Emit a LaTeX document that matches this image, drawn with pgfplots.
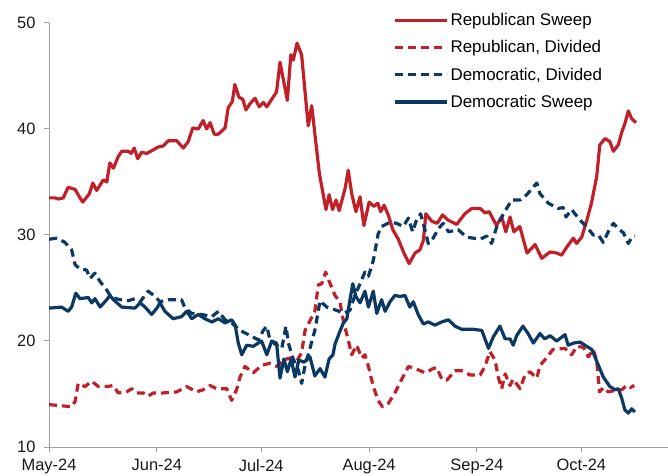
\documentclass[border=0pt]{standalone}
\usepackage{fontspec}
\setmainfont{Liberation Sans}
\usepackage{pgfplots}
\pgfplotsset{compat=1.18}
\definecolor{gsred}{RGB}{193,32,41}
\definecolor{gsblue}{RGB}{12,56,100}
\definecolor{axgray}{RGB}{160,160,160}
\begin{document}
\begin{tikzpicture}
\path[use as bounding box] (0,0) rectangle (668bp,476bp);
\begin{axis}[
  at={(49bp,29bp)}, anchor=south west,
  scale only axis, width=619bp, height=424bp,
  xmin=0, xmax=177.9, ymin=10, ymax=50,
  axis x line=bottom, axis y line=left,
  axis line style={axgray, line width=1bp, -},
  xtick={0,31,61,92,123,153},
  xticklabels={May-24,Jun-24,Jul-24,Aug-24,Sep-24,Oct-24},
  ytick={10,20,30,40,50},
  tick align=outside, major tick length=5bp,
  tick style={axgray, line width=1bp},
  every tick label/.append style={font=\fontsize{16.5}{19}\selectfont, text=black!90},
  xticklabel style={yshift=-4bp},
  yticklabel style={xshift=-5bp},
  /pgf/number format/assume math mode=true,
  legend style={draw=none, fill=none, at={(0.556,1.028)}, anchor=north west,
    font=\fontsize{17}{20}\selectfont, row sep=9.5bp, inner sep=0pt},
  legend cell align=left,
  legend image code/.code={\draw[#1] (0bp,0bp) -- (52bp,0bp);},
  every axis plot/.append style={line width=3.2bp, line join=round},
]
% Republican Sweep
\addplot[gsred] coordinates {
(0,33.5)(1.7,33.5)(2.7,33.4)(4.1,33.5)(5.5,34.5)(7.5,34.3)(8.9,33.5)(9.7,33.1)
(11.6,33.9)(12.6,34.9)(13.7,34.2)(15.6,35.2)(16.6,35.0)(17.5,36.8)(18.5,36.3)
(19.9,37.4)(20.9,37.9)(22.8,37.9)(23.6,37.7)(24.5,38.2)(25.5,37.2)(26.6,37.8)
(28.1,37.7)(29.8,38.0)(31.4,38.3)(32.8,38.4)(34.3,38.9)(36.7,38.9)(38.6,38.2)
(40.0,38.8)(41.3,40.1)(42.9,40.0)(44.3,40.8)(45.3,40.0)(46.3,40.6)(47.5,39.5)
(48.6,39.5)(50.6,40.1)(51.5,42.0)(52.7,42.6)(53.4,44.2)(54.6,43.0)(55.7,42.8)
(56.6,41.8)(57.8,42.4)(59.2,42.9)(60.4,42.1)(61.6,42.5)(62.6,42.1)(64.0,42.8)
(65.4,43.5)(66.4,46.3)(68.5,42.7)(69.5,47.0)(70.2,46.5)(71.3,48.1)(72.6,47.0)
(74.5,40.3)(75.5,42.2)(77.7,35.8)(79.6,32.4)(80.5,33.8)(81.5,32.4)(82.5,33.3)
(83.4,32.3)(85.1,34.4)(86.0,36.1)(87.0,33.9)(88.2,32.2)(89.4,33.6)(90.5,30.9)
(92.0,33.1)(93.4,32.7)(94.5,33.0)(95.3,32.2)(96.3,32.8)(97.5,31.9)(98.8,30.5)
(100.4,29.6)(102.0,28.3)(103.5,27.3)(105.2,28.3)(106.6,28.6)(107.6,29.5)
(108.3,32.0)(110.0,31.3)(111.6,31.1)(113.1,31.9)(114.7,31.4)(117.2,31.0)
(119.5,32.0)(121.5,32.5)(123.9,32.5)(125.3,32.1)(126.5,32.2)(128.6,30.9)
(130.1,31.7)(131.3,30.3)(132.5,31.7)(133.6,30.3)(135.3,30.8)(137.4,28.3)
(139.7,29.1)(141.6,27.8)(144.0,28.4)(145.9,28.3)(147.3,28.1)(148.9,28.9)
(150.7,29.7)(151.6,29.2)(153.1,29.8)(154.5,31.3)(155.9,33.0)(157.4,35.5)
(158.3,38.5)(159.8,39.1)(161.2,38.8)(162.2,37.9)(163.6,38.5)(164.6,39.7)
(165.5,40.5)(166.5,41.7)(167.4,41.0)(168.7,40.6)
};
\addlegendentry{Republican Sweep}
% Republican, Divided
\addplot[gsred, dash pattern=on 8bp off 5bp] coordinates {
(0,14.0)(3.2,13.9)(6.5,13.8)(7.5,14.3)(8.4,16.0)(10.3,15.7)(12.3,16.2)(14.2,15.7)
(16.6,15.7)(18.5,15.8)(19.9,15.1)(22.3,15.2)(23.8,15.5)(25.2,15.1)(27.1,15.1)
(28.5,14.8)(30.0,15.1)(32.8,15.1)(36.7,15.2)(39.6,15.7)(42.4,15.2)(44.3,15.4)
(46.3,15.8)(48.2,15.5)(51.1,15.5)(52.5,14.4)(53.9,15.4)(54.9,16.6)(56.3,17.6)
(58.7,17.0)(61.1,17.7)(63.5,17.9)(65.4,17.6)(67.3,18.2)(69.3,18.4)(71.2,18.1)
(72.6,18.9)(73.6,21.0)(75.0,21.9)(76.4,22.8)(77.4,25.3)(78.4,25.4)(79.5,26.5)
(80.8,25.4)(82.2,24.3)(83.6,23.7)(84.6,21.9)(86.0,20.1)(87.0,18.7)(88.4,19.6)
(89.9,18.4)(90.8,18.7)(91.8,17.6)(93.2,15.7)(94.6,14.4)(95.8,13.8)(97.5,14.1)
(99.4,15.1)(101.4,16.4)(103.3,17.6)(105.2,17.4)(108.1,17.0)(110.4,17.4)
(111.4,17.5)(112.9,16.4)(114.3,16.3)(116.7,17.2)(118.6,17.2)(121.0,16.8)
(123.9,16.8)(125.3,17.6)(126.7,19.0)(128.2,18.2)(129.1,16.6)(130.1,15.5)
(131.1,16.9)(132.5,15.8)(133.4,16.4)(135.4,15.5)(136.8,16.8)(138.2,17.1)
(140.2,16.5)(141.1,17.7)(143.0,18.4)(144.8,19.2)(148.3,19.3)(150.2,18.7)
(151.7,19.5)(153.6,19.4)(155.0,18.5)(156.4,19.2)(157.4,18.2)(158.2,15.2)
(159.3,15.6)(160.7,15.2)(162.2,15.3)(164.6,15.4)(166.0,15.8)(167.0,15.6)(168.2,15.8)
};
\addlegendentry{Republican, Divided}
% Democratic, Divided
\addplot[gsblue, dash pattern=on 8bp off 5bp] coordinates {
(0,29.6)(2.2,29.7)(4.6,29.3)(6.5,28.6)(7.5,27.2)(8.9,26.8)(10.8,26.7)(11.8,25.9)
(13.2,26.4)(14.7,25.6)(16.6,24.8)(18.0,24.1)(20.4,23.9)(22.8,23.8)(24.7,24.0)
(26.2,23.7)(28.5,24.7)(30.5,24.2)(31.9,23.7)(34.3,23.9)(36.7,23.9)(38.1,23.9)
(39.1,23.1)(41.0,22.6)(43.9,22.5)(46.8,22.3)(48.7,22.8)(50.6,22.0)(52.5,21.7)
(54.9,21.0)(57.3,20.6)(60.2,20.1)(61.6,21.0)(62.6,21.4)(63.5,20.1)(65.4,19.6)
(66.9,19.3)(68.1,21.4)(68.8,19.8)(70.2,18.3)(71.6,17.3)(72.6,16.0)(73.6,17.7)
(75.0,19.3)(76.4,21.0)(77.9,23.8)(79.8,23.2)(81.7,23.0)(83.4,22.8)(84.6,22.6)
(86.5,22.9)(87.9,24.3)(89.4,25.4)(90.8,26.5)(91.8,26.1)(93.2,27.6)(94.6,30.1)
(95.6,30.8)(98.0,31.2)(99.9,31.1)(101.8,30.8)(103.3,31.6)(104.5,30.3)(105.5,31.3)
(106.8,32.0)(107.8,30.8)(109.0,29.2)(110.4,29.7)(111.9,30.6)(113.3,31.1)
(114.8,30.3)(117.6,30.5)(120.0,29.8)(123.9,29.6)(125.8,29.9)(127.2,29.2)
(128.7,30.8)(130.6,32.0)(133.0,33.3)(135.4,33.3)(137.3,33.8)(140.2,34.9)
(141.1,33.9)(143.5,33.0)(146.4,32.5)(147.8,32.6)(148.6,31.7)(150.2,32.4)
(152.6,31.4)(154.5,30.8)(156.4,30.0)(157.9,30.0)(159.3,29.3)(160.7,30.3)
(162.2,31.1)(163.6,30.6)(165.1,30.2)(166.5,29.2)(167.5,29.8)(168.4,29.9)
};
\addlegendentry{Democratic, Divided}
% Democratic Sweep
\addplot[gsblue] coordinates {
(0,23.1)(3.6,23.2)(5.5,22.8)(6.5,23.2)(7.7,24.5)(8.9,24.0)(11.3,24.1)(12.3,23.6)
(13.2,24.0)(14.7,23.2)(16.6,23.9)(17.5,24.3)(18.5,23.9)(20.9,23.2)(24.7,23.1)
(26.2,23.6)(27.6,23.2)(29.5,22.5)(31.0,23.1)(31.9,23.6)(33.3,22.8)(35.7,22.1)
(38.1,22.3)(39.6,22.8)(41.0,22.1)(42.9,22.5)(44.8,22.1)(46.8,21.8)(48.7,22.1)
(50.6,21.7)(52.5,22.0)(53.5,21.5)(54.4,19.8)(55.4,18.7)(56.8,19.6)(58.7,19.5)
(61.1,20.0)(62.6,18.7)(64.0,20.0)(65.4,19.8)(66.4,16.5)(67.5,18.3)(68.5,17.1)
(69.6,18.3)(70.7,16.6)(71.8,18.2)(73.3,18.0)(75.0,18.5)(76.4,16.7)(77.9,17.4)
(79.3,16.6)(80.5,18.3)(81.6,18.7)(82.2,19.7)(83.6,20.9)(84.6,21.7)(85.6,22.1)
(86.5,23.9)(87.3,25.4)(88.2,24.2)(89.4,23.6)(90.8,24.7)(91.8,23.2)(93.2,24.7)
(94.2,22.6)(95.6,23.9)(96.6,22.8)(98.0,23.7)(99.4,24.3)(100.9,24.2)(102.3,24.3)
(103.7,23.2)(104.7,23.7)(106.1,22.5)(107.6,21.6)(109.0,21.8)(110.9,21.5)
(112.9,21.8)(114.8,22.0)(116.7,21.4)(118.6,21.1)(121.9,21.1)(124.4,21.0)
(126.3,19.3)(127.7,20.4)(129.6,21.4)(131.1,20.2)(132.5,20.2)(133.4,19.6)
(134.4,20.5)(136.2,21.4)(137.7,20.7)(139.2,19.8)(141.1,20.7)(142.5,20.2)
(144.0,20.5)(145.9,20.0)(148.3,20.6)(149.2,19.6)(150.7,19.8)(152.6,19.9)
(154.5,19.5)(156.0,19.2)(157.4,18.1)(159.3,16.6)(161.2,15.7)(162.7,15.4)
(163.6,15.5)(164.6,14.6)(165.5,13.5)(166.5,13.2)(167.5,13.6)(168.4,13.3)
};
\addlegendentry{Democratic Sweep}
\end{axis}
\end{tikzpicture}
\end{document}
